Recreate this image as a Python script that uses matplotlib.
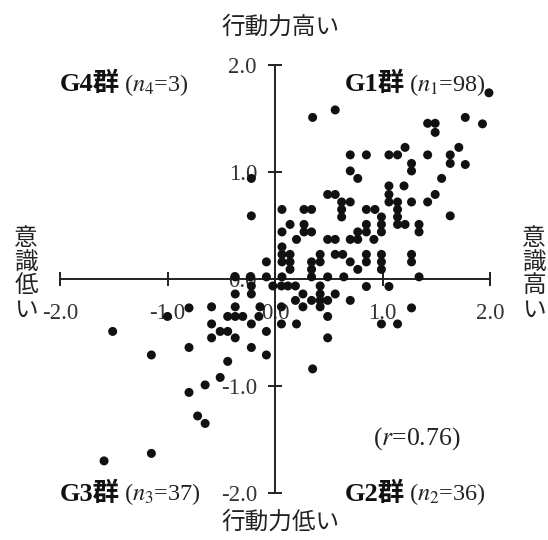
import matplotlib
matplotlib.use("Agg")
import matplotlib.pyplot as plt

plt.rcParams['mathtext.fontset'] = 'stix'

# upper right (G1)
x_g1 = [1.99, 0.35, 0.56, 1.42, 1.49, 1.49, 1.77, 1.93,
        0.70, 0.85, 1.06, 1.14, 1.21, 1.27, 1.27, 1.42, 1.63, 1.63, 1.71, 1.77,
        0.70, 0.77, 1.55, 1.06, 1.20,
        0.49, 0.56, 1.06, 1.49,
        0.62, 0.70, 1.06, 1.14, 1.27, 1.42,
        0.62, 0.62, 0.065, 0.27, 0.34, 0.85, 0.93, 0.99, 1.14, 1.14, 1.14, 1.21, 1.63,
        0.14, 0.065, 0.27, 0.27, 0.34, 0.20, 0.065, 0.49, 0.56, 0.70, 0.77, 0.77, 0.85, 0.85,
        0.92, 0.99, 0.99, 1.34, 1.34,
        0.065, 0.065, 0.14, 0.14, 0.14, 0.34, 0.42, 0.34, 0.34, 0.42, 0.56, 0.63, 0.70, 0.77,
        0.85, 0.85, 0.99, 0.99, 0.99, 1.27, 1.27, 1.34, 0.49, 0.64, 0.065]
y_g1 = [1.74, 1.51, 1.58, 1.455, 1.455, 1.37, 1.51, 1.45,
        1.16, 1.16, 1.16, 1.16, 1.23, 1.08, 1.01, 1.16, 1.16, 1.08, 1.23, 1.07,
        1.01, 0.94, 0.94, 0.87, 0.87,
        0.79, 0.79, 0.79, 0.79,
        0.72, 0.72, 0.72, 0.72, 0.72, 0.72,
        0.65, 0.58, 0.65, 0.65, 0.65, 0.65, 0.65, 0.58, 0.65, 0.58, 0.51, 0.51, 0.59,
        0.51, 0.44, 0.51, 0.44, 0.44, 0.37, 0.30, 0.37, 0.37, 0.37, 0.37, 0.44, 0.44, 0.51,
        0.37, 0.51, 0.44, 0.51, 0.44,
        0.23, 0.16, 0.23, 0.16, 0.09, 0.16, 0.23, 0.09, 0.02, 0.16, 0.23, 0.23, 0.16, 0.09,
        0.23, 0.16, 0.23, 0.16, 0.09, 0.23, 0.16, 0.02, 0.02, 0.02, 0.02]

# upper left (G4) and points on the x axis
x_g4 = [-0.22, -0.22, -0.08, -0.08, -0.37, -0.23]
y_g4 = [0.94, 0.59, 0.16, 0.02, 0.02, 0.02]

# lower left (G3)
x_g3 = [-0.02, -0.37, -0.22, -0.22,
        -0.80, -1.00, -0.59, -0.37, -0.14,
        -0.44, -0.37, -0.30, -0.15, -0.22, -0.59, -0.51, -0.44, -0.59, -0.37, -0.08,
        -0.08, -0.22, -0.44, -0.51, -0.65, -0.80, -0.80, -1.15, -1.51, -0.72, -0.65,
        -1.15, -1.59]
y_g3 = [-0.065, -0.14, -0.14, -0.065,
        -0.27, -0.35, -0.26, -0.26, -0.26,
        -0.35, -0.35, -0.35, -0.35, -0.42, -0.42, -0.49, -0.49, -0.55, -0.55, -0.49,
        -0.71, -0.64, -0.77, -0.92, -0.99, -1.06, -0.64, -0.71, -0.49, -1.28, -1.35,
        -1.63, -1.70]

# lower right (G2)
x_g2 = [0.06, 0.12, 0.19, 0.42, 0.26, 0.42, 0.56, 0.19, 0.34, 0.42, 0.49, 0.70,
        0.06, 0.26, 0.42, 0.49, 0.06, 0.20, 0.49, 0.35, 0.85, 1.06, 1.27, 0.99, 1.14]
y_g2 = [-0.065, -0.065, -0.065, -0.065, -0.14, -0.14, -0.14, -0.20, -0.20, -0.20, -0.20, -0.20,
        -0.26, -0.26, -0.26, -0.35, -0.42, -0.42, -0.55, -0.84, -0.07, -0.07, -0.27, -0.42, -0.42]

ticks = [-2.0, -1.0, 0.0, 1.0, 2.0]
tick_labels = ['-2.0', '-1.0', '0.0', '1.0', '2.0']

xs = x_g1 + x_g4 + x_g3 + x_g2
ys = y_g1 + y_g4 + y_g3 + y_g2

serif = 'Liberation Serif'
jp = ['Liberation Serif', 'Noto Sans CJK JP']

fig = plt.figure(figsize=(5.48, 5.40), dpi=100)
ax = fig.add_axes([60 / 548, 47 / 540, 430 / 548, 428 / 540])
ax.scatter(xs, ys, s=42, color='#111111', edgecolors='none', zorder=3, clip_on=False)

ax.set_xlim(-2, 2)
ax.set_ylim(-2, 2)
for side in ['top', 'right']:
    ax.spines[side].set_visible(False)
ax.spines['left'].set_position(('data', 0))
ax.spines['bottom'].set_position(('data', 0))
for side in ['left', 'bottom']:
    ax.spines[side].set_linewidth(1.4)
    ax.spines[side].set_color('#222222')

ax.set_xticks(ticks)
ax.set_yticks(ticks)
ax.set_xticklabels(tick_labels, fontfamily=serif, fontsize=16.5, color='#333333')
ax.set_yticklabels(tick_labels, fontfamily=serif, fontsize=16.5, color='#333333')
ax.tick_params(direction='inout', length=10, width=1.4, color='#222222')
ax.tick_params(axis='x', pad=12)
ax.tick_params(axis='y', pad=8)

# axis titles
fig.text(280 / 548, 1 - 27 / 540, '行動力高い', ha='center', va='center',
         fontfamily='Noto Sans CJK JP', fontsize=17, color='#222222')
fig.text(280 / 548, 1 - 522 / 540, '行動力低い', ha='center', va='center',
         fontfamily='Noto Sans CJK JP', fontsize=17, color='#222222')
fig.text(26 / 548, 1 - 274 / 540, '意\n識\n低\nい', ha='center', va='center',
         fontfamily='Noto Sans CJK JP', fontsize=17, linespacing=1.05, color='#222222')
fig.text(534 / 548, 1 - 274 / 540, '意\n識\n高\nい', ha='center', va='center',
         fontfamily='Noto Sans CJK JP', fontsize=17, linespacing=1.05, color='#222222')


def group_label(x, y, head, tail):
    t = ax.text(x, y, head, fontfamily=jp, fontweight='bold', fontsize=19,
                ha='left', va='baseline', color='#111111')
    fig.canvas.draw()
    bb = t.get_window_extent()
    x1 = ax.transData.inverted().transform((bb.x1 + 4, 0))[0]
    ax.text(x1, y, tail, fontfamily=serif, fontsize=17.5, ha='left', va='baseline',
            color='#222222')


group_label(-2.0, 1.76, 'G4群', r'($n_4$=3)')
group_label(0.65, 1.76, 'G1群', r'($n_1$=98)')
group_label(-2.0, -2.07, 'G3群', r'($n_3$=37)')
group_label(0.65, -2.07, 'G2群', r'($n_2$=36)')
ax.text(0.91, -1.55, r'($r$=0.76)', fontfamily=serif, fontsize=18.5, ha='left',
        va='baseline', color='#222222')

fig.savefig('out.png', dpi=100)
